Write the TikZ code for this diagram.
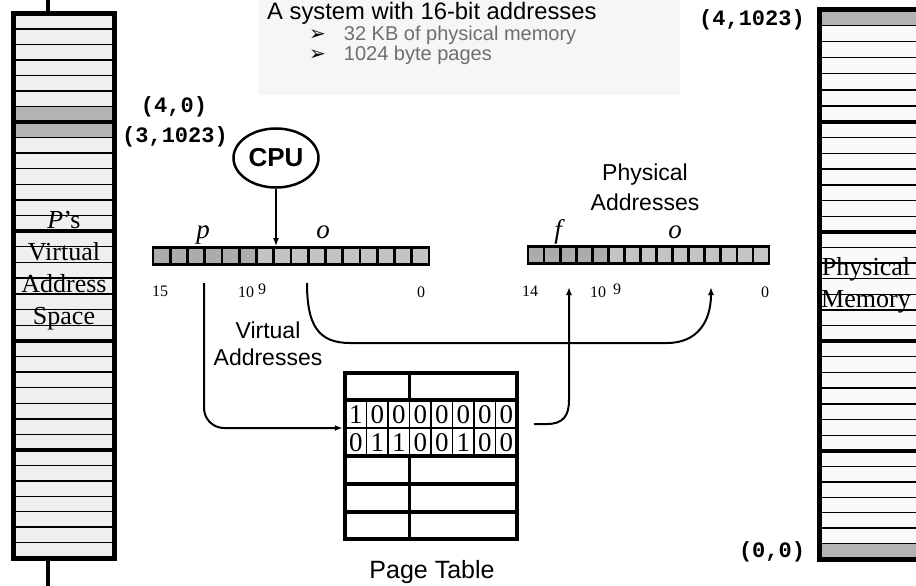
\documentclass[tikz,border=0pt]{standalone}
\usepackage{fontspec}
\setmainfont{Liberation Serif}
\setsansfont{Liberation Sans}
\setmonofont{Liberation Mono}
\newfontfamily\dejavu{DejaVu Sans}
\usetikzlibrary{arrows.meta,shapes.geometric}
\definecolor{boxbg}{HTML}{F6F6F6}
\definecolor{leftfill}{HTML}{EFEFEF}
\definecolor{rightfill}{HTML}{FAFAFA}
\definecolor{cellgray}{HTML}{B3B3B3}
\definecolor{regdark}{HTML}{ACACAC}
\definecolor{reglight}{HTML}{C4C4C4}
\definecolor{bulletgray}{HTML}{6E6E6E}
\newcommand{\pxs}[1]{\fontsize{#1}{#1}\selectfont}
\newcommand{\bul}{{\dejavu\color{black}\pxs{20}➢}\hspace{18pt}}
\tikzset{
  thinline/.style={line width=1.3pt},
  thickline/.style={line width=4.5pt},
  barborder/.style={line width=5pt},
  conn/.style={line width=2pt},
  arr/.style={line width=2pt,-{Latex[length=8pt,width=6pt]}},
  coordlabel/.style={font=\ttfamily\bfseries\pxs{22}, inner sep=0pt},
  bitnum/.style={font=\pxs{16}, inner sep=0pt},
  fieldlabel/.style={font=\itshape\pxs{27}, inner sep=0pt, anchor=base},
  sanslabel/.style={font=\sffamily\pxs{23}, align=center, inner sep=0pt},
  barlabel/.style={font=\pxs{26}, align=center, inner sep=0pt},
  regcell/.style={draw, line width=2.8pt},
  bitdigit/.style={font=\pxs{27}, inner sep=0pt}
}
\begin{document}
\begin{tikzpicture}[x=1pt,y=-1pt]
\useasboundingbox (0,0) rectangle (916,586);
\clip (0,0) rectangle (916,586);

% title box
\fill[boxbg] (258,0) rectangle (680,95);
\node[anchor=west, font=\sffamily\pxs{23.8}, inner sep=0pt] (title) at (267,13) {A system with 16-bit addresses};
\node[anchor=north west, font=\sffamily\fontsize{20}{18}\selectfont, text=bulletgray, align=left, inner sep=0pt] (bullets) at (309,26) {\bul 32 KB of physical memory\\\bul 1024 byte pages};

% left bar (virtual address space)
\fill[leftfill] (13.5,13.5) rectangle (114.5,558);
\fill[cellgray] (13.5,106.5) rectangle (114.5,122);
\fill[cellgray] (13.5,122) rectangle (114.5,137.5);
\foreach \a/\b in {13.5/122,122/231,231/341,341/450,450/558}{
  \foreach \k in {1,...,6}{
    \draw[thinline] (13.5,{\a+\k*(\b-\a)/7}) -- (114.5,{\a+\k*(\b-\a)/7});
  }
}
\foreach \y in {122,231,341,450} \draw[thickline] (13.5,\y) -- (114.5,\y);
\draw[barborder] (13.5,13.5) rectangle (114.5,558);
\draw[line width=4pt] (48,0) -- (48,13.5);
\draw[line width=4pt] (48,558) -- (48,586);
\node[barlabel] (vas) at (64,271) {\textit{P}’s\\[6pt]Virtual\\[6pt]Address\\[6pt]Space};

% right bar (physical memory)
\fill[rightfill] (819,9.5) rectangle (940,559);
\fill[cellgray] (819,9.5) rectangle (940,25.6);
\fill[cellgray] (819,543.6) rectangle (940,559);
\foreach \a/\b in {9.5/122,122/232,232/341,341/451,451/559}{
  \foreach \k in {1,...,6}{
    \draw[thinline] (819,{\a+\k*(\b-\a)/7}) -- (940,{\a+\k*(\b-\a)/7});
  }
}
\foreach \y in {122,232,341,451} \draw[thickline] (819,\y) -- (940,\y);
\draw[barborder] (819,9.5) rectangle (940,559);
\node[barlabel] (pm) at (866,285) {Physical\\[6pt]Memory};

% coordinate labels
\node[coordlabel] (l40) at (174,107) {(4,0)};
\node[coordlabel] (l31023) at (175,137) {(3,1023)};
\node[coordlabel] (l41023) at (752,20) {(4,1023)};
\node[coordlabel] (l00) at (772,552) {(0,0)};

% CPU
\node[draw, ellipse, line width=2.5pt, minimum width=85pt, minimum height=59pt, font=\sffamily\bfseries\pxs{26}, inner sep=0pt] (cpu) at (276,158) {\raisebox{-6pt}{CPU}};

% virtual address register
\foreach \i in {0,...,15}{
  \ifnum\i<6 \def\cc{regdark}\else\def\cc{reglight}\fi
  \draw[regcell, fill=\cc] ({153+\i*17.25},247.5) rectangle ({153+(\i+1)*17.25},264.5);
}
\node[draw, line width=2.8pt, minimum width=276pt, minimum height=17pt, inner sep=0pt, outer sep=1.4pt] (vreg) at (291,256) {};
\node[fieldlabel] (vp) at (203,238) {p};
\node[fieldlabel] (vo) at (323,238) {o};
\node[bitnum] (v15) at (160,291) {15};
\node[bitnum] (v10) at (246,292) {10};
\node[bitnum] (v9) at (262,289) {9};
\node[bitnum] (v0) at (421,292) {0};

% physical address register
\foreach \i in {0,...,14}{
  \ifnum\i<5 \def\cc{regdark}\else\def\cc{reglight}\fi
  \draw[regcell, fill=\cc] ({528+\i*16.07},246.5) rectangle ({528+(\i+1)*16.07},263.5);
}
\node[draw, line width=2.8pt, minimum width=241pt, minimum height=17pt, inner sep=0pt, outer sep=1.4pt] (preg) at (648.5,255) {};
\node[fieldlabel] (pf) at (558,238) {f};
\node[fieldlabel] (po) at (675,238) {o};
\node[bitnum] (p14) at (530,291) {14};
\node[bitnum] (p10) at (598,292) {10};
\node[bitnum] (p9) at (617,289) {9};
\node[bitnum] (p0) at (765,292) {0};

\node[sanslabel] (physaddr) at (645,187) {Physical\\[7pt]Addresses};
\node[sanslabel] (virtaddr) at (268,344) {Virtual\\[4pt]Addresses};

% page table
\fill[white] (345,373) rectangle (517,539);
\foreach \j in {1,...,7} \draw[line width=1.2pt] ({345+\j*21.5},400) -- ({345+\j*21.5},456);
\draw[line width=1.2pt] (345,428) -- (517,428);
\foreach \d [count=\j from 0] in {1,0,0,0,0,0,0,0}
  \node[bitdigit] at ({345+(\j+0.5)*21.5},415) {\d};
\foreach \d [count=\j from 0] in {0,1,1,0,0,1,0,0}
  \node[bitdigit] at ({345+(\j+0.5)*21.5},443) {\d};
\draw[line width=3pt] (409.5,373) -- (409.5,400);
\draw[line width=3pt] (409.5,456) -- (409.5,539);
\foreach \y in {400,456,484,512} \draw[line width=4.5pt] (345,\y) -- (517,\y);
\node[draw, line width=4.5pt, minimum width=172pt, minimum height=166pt, inner sep=0pt] (pt) at (431,456) {};
\node[font=\sffamily\pxs{25}, inner sep=0pt] (ptlabel) at (432,572) {Page Table};

% connectors
\coordinate (pstart) at (204,283);
\coordinate (ostart) at (307,283);
\coordinate (ptin) at (pt.west |- 0,428);
\coordinate (ptout) at (534,424);
\coordinate (fend) at (569,287);
\coordinate (oend) at (711,287);

\draw[arr] (cpu.south) -- (cpu.south |- vreg.north);
\draw[arr, rounded corners=20pt] (pstart) |- (ptin);
\draw[arr] (ostart) .. controls (307,325) and (318,343) .. (350,343) -- (667,343)
  .. controls (697,343) and (711,322) .. (oend);
\draw[arr] (ptout) -- (547,424) .. controls (563,424) and (569,416) .. (569,400) -- (fend);
\end{tikzpicture}
\end{document}
